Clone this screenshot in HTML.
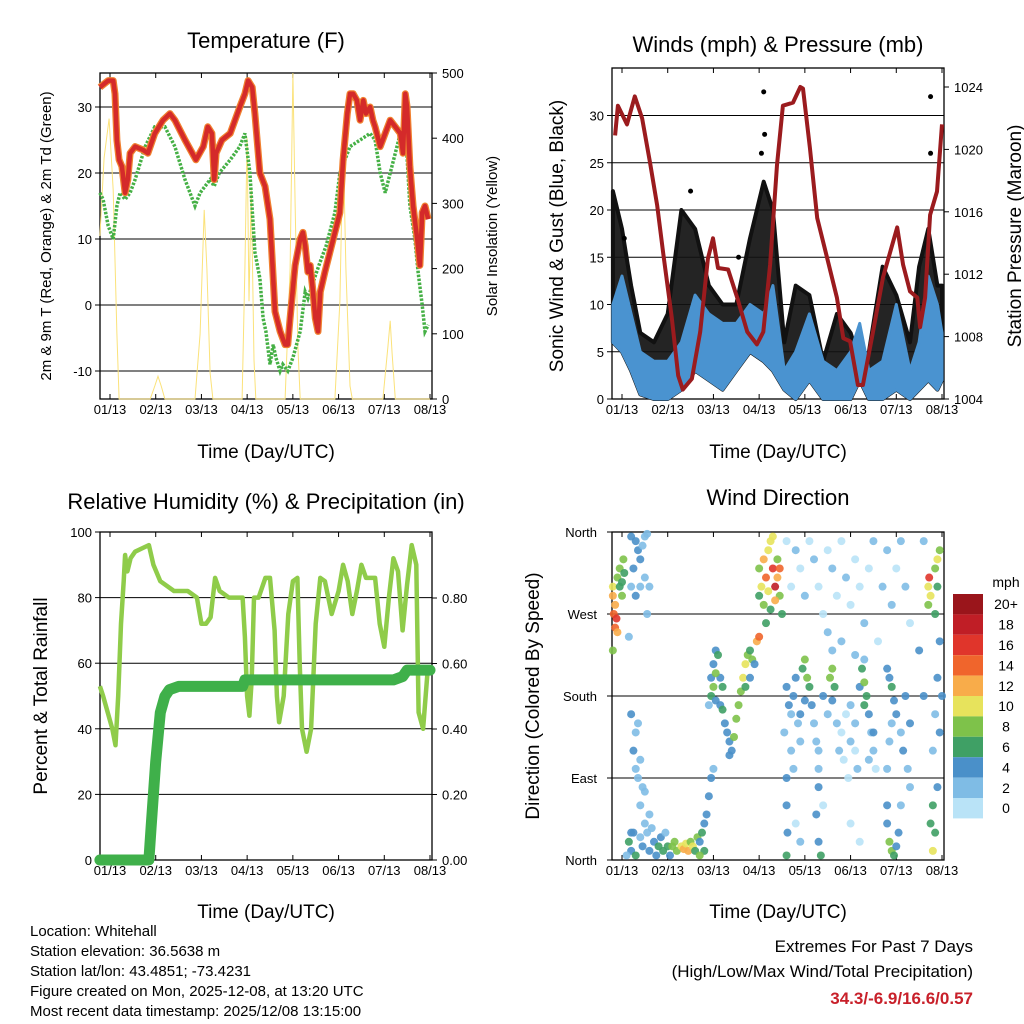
<!DOCTYPE html>
<html><head><meta charset="utf-8"><style>
body{margin:0;background:#fff;}
svg{display:block;font-family:"Liberation Sans",sans-serif;}
</style></head><body>
<svg id="chart" width="1024" height="1024" viewBox="0 0 1024 1024">
<rect x="0" y="0" width="1024" height="1024" fill="#fff"/>
<text x="266" y="48" font-size="22" text-anchor="middle">Temperature (F)</text>
<text x="778" y="52" font-size="22" text-anchor="middle">Winds (mph) &amp; Pressure (mb)</text>
<text x="266" y="509" font-size="22" text-anchor="middle">Relative Humidity (%) &amp; Precipitation (in)</text>
<text x="778" y="505" font-size="22" text-anchor="middle">Wind Direction</text>
<text x="266" y="458" font-size="19" text-anchor="middle">Time (Day/UTC)</text>
<text x="778" y="458" font-size="19" text-anchor="middle">Time (Day/UTC)</text>
<text x="266" y="918" font-size="19" text-anchor="middle">Time (Day/UTC)</text>
<text x="778" y="918" font-size="19" text-anchor="middle">Time (Day/UTC)</text>
<text transform="translate(51,236) rotate(-90)" font-size="15" text-anchor="middle">2m &amp; 9m T (Red, Orange) &amp; 2m Td (Green)</text>
<text transform="translate(497,236) rotate(-90)" font-size="15" text-anchor="middle">Solar Insolation (Yellow)</text>
<text transform="translate(563,236) rotate(-90)" font-size="19" text-anchor="middle">Sonic Wind &amp; Gust (Blue, Black)</text>
<text transform="translate(1021,236) rotate(-90)" font-size="19" text-anchor="middle">Station Pressure (Maroon)</text>
<text transform="translate(47,696) rotate(-90)" font-size="19" text-anchor="middle">Percent &amp; Total Rainfall</text>
<text transform="translate(539,696) rotate(-90)" font-size="19" text-anchor="middle">Direction (Colored By Speed)</text>
<g font-size="15">
<text x="30" y="936">Location: Whitehall</text>
<text x="30" y="956">Station elevation: 36.5638 m</text>
<text x="30" y="976">Station lat/lon: 43.4851; -73.4231</text>
<text x="30" y="996">Figure created on Mon, 2025-12-08, at 13:20 UTC</text>
<text x="30" y="1016">Most recent data timestamp: 2025/12/08 13:15:00</text>
</g>
<g font-size="17" text-anchor="end">
<text x="973" y="952">Extremes For Past 7 Days</text>
<text x="973" y="977">(High/Low/Max Wind/Total Precipitation)</text>
<text x="973" y="1004" font-weight="bold" fill="#c8202a">34.3/-6.9/16.6/0.57</text>
</g>
<g id="layer"></g>
</svg>
<script>
// ---- shared time axis ----
const dayLabels=["01/13","02/13","03/13","04/13","05/13","06/13","07/13","08/13"];
// ---- temperature panel ----
const tTimes=[-0.22,-0.04,0.07,0.11,0.15,0.2,0.26,0.33,0.39,0.44,0.55,0.72,0.83,0.98,1.16,1.31,1.42,1.64,1.88,2.04,2.14,2.23,2.28,2.32,2.45,2.63,2.84,2.95,3.02,3.11,3.17,3.28,3.39,3.5,3.54,3.61,3.72,3.83,3.89,3.94,4.05,4.16,4.22,4.27,4.33,4.38,4.44,4.49,4.55,4.6,4.7,4.81,4.92,5.03,5.1,5.19,5.25,5.32,5.4,5.47,5.54,5.6,5.69,5.75,5.8,5.91,6.02,6.13,6.24,6.35,6.41,6.46,6.5,6.56,6.63,6.72,6.78,6.83,6.89,6.96];
const temp2m=[33,34,34,32,25,22,21,17,19,23,24,23.5,23,26,28,29,28,25,22,24,27,26,19,23,25,26,30,32,34,33,29,20,18,13,8,-1,-4,-6,-6,-2,6,10,11,9,5,6,2,-2,-4,2,5,8,11,14,22,29,32,32,31,28,31,29,30,28,27,24,26,28,27,26,23,32,30,21,15,10,6,14,15,13];
const tdTimes=[-0.22,-0.15,-0.04,0.07,0.15,0.22,0.33,0.44,0.55,0.77,0.98,1.2,1.42,1.64,1.86,1.97,2.19,2.28,2.39,2.63,2.84,2.95,3.06,3.17,3.28,3.35,3.41,3.5,3.57,3.63,3.72,3.78,3.89,4.0,4.16,4.27,4.33,4.42,4.57,4.73,4.92,5.03,5.25,5.47,5.69,5.8,5.91,6.02,6.13,6.24,6.35,6.46,6.56,6.67,6.74,6.83,6.89,6.96];
const dewpt=[17,16,12,10,15,17,16,17,19,24,27,27,24,19,15,17,19,18,20,22,24,26,20,8,4,-2,-4,-9,-6,-8,-10,-9,-10,-8,-4,2,1,3,6,9,14,20,24,25,26,25,20,17,20,23,26,27,15,10,5,0,-4,-3];
const solTimes=[-0.22,-0.13,-0.02,0.07,0.15,0.2,0.88,0.98,1.05,1.12,1.2,1.86,1.97,2.06,2.12,2.19,2.25,2.89,2.95,3.0,3.04,3.09,3.15,3.19,3.83,3.94,4.0,4.05,4.11,4.16,4.92,5.03,5.1,5.16,5.25,5.3,5.97,6.08,6.13,6.17,6.24,7.0];
const solar=[250,370,430,320,100,0,0,20,35,20,0,0,100,290,200,40,0,0,200,400,150,320,60,0,0,200,500,300,80,0,0,150,400,200,20,0,0,80,120,70,0,0];
const tTicks=[-10,0,10,20,30];
const solTicks=[0,100,200,300,400,500];
// ---- winds panel ----
const pTimes=[-0.15,-0.09,0.11,0.28,0.44,0.61,0.77,0.9,1.09,1.23,1.33,1.53,1.71,1.88,1.99,2.1,2.32,2.52,2.74,2.95,3.09,3.24,3.39,3.52,3.74,3.9,3.96,4.11,4.27,4.49,4.7,4.84,4.99,5.16,5.27,5.49,5.71,6.02,6.15,6.3,6.46,6.52,6.63,6.74,6.89,7.0];
const pressure=[1020.9,1022.8,1021.6,1023.4,1022,1019.2,1016.4,1013.4,1009.2,1005.5,1004.6,1005.3,1008.3,1013,1014.3,1012.4,1012.3,1010.5,1008.3,1007.5,1008.3,1012.6,1019,1022.8,1023,1024,1023.9,1020.1,1015.6,1013,1010.5,1007.9,1007.7,1004.9,1004.9,1008.3,1011.8,1015,1012.6,1010.9,1010.5,1008.6,1010.5,1015.8,1017.3,1021.6];
const wTimes=[-0.2,0,0.2,0.4,0.7,1.0,1.3,1.6,1.9,2.2,2.5,2.8,3.1,3.3,3.55,3.8,4.1,4.4,4.7,5.0,5.2,5.4,5.7,6.0,6.3,6.5,6.7,6.9,7.0];
const windLo=[6,5,3,0.5,0,0,1,3,2,1,3,5,4,3,1,0,2,0,0,0,2,0,0,1,0,1,2,1,2];
const windHi=[10,13,9,5,4,4,6,11,9,8,8,10,9,12,3,5,9,4,3,5,8,3,4,10,3,6,13,10,7];
const gustHi=[22,18,12,7,6,9,20,18,12,10,10,17,23,20,6,12,11,4,9,7,4,5,14,11,6,14,18,12,12];
const gustOutT=[3.1,3.12,3.05,6.75,6.75,2.55,0.05,1.5];
const gustOutV=[32.5,28,26,32,26,15,17,22];
const wTicks=[0,5,10,15,20,25,30];
const pTicks=[1004,1008,1012,1016,1020,1024];
// ---- humidity panel ----
const rhTimes=[-0.22,-0.15,-0.05,0.05,0.12,0.18,0.24,0.3,0.33,0.38,0.45,0.55,0.7,0.85,0.95,1.1,1.4,1.7,1.9,2.0,2.1,2.2,2.3,2.4,2.6,2.9,2.95,3.0,3.05,3.1,3.15,3.25,3.4,3.5,3.6,3.65,3.7,3.8,3.9,4.0,4.1,4.15,4.2,4.3,4.4,4.5,4.6,4.7,4.85,5.0,5.1,5.2,5.3,5.4,5.5,5.6,5.8,5.9,6.0,6.1,6.2,6.3,6.4,6.5,6.6,6.7,6.75,6.85,6.95];
const rh=[53,50,45,40,35,50,72,85,93,88,92,94,95,96,90,85,82,82,80,72,72,74,86,82,80,80,68,50,44,55,80,80,86,86,70,50,42,50,75,85,86,60,40,33,40,72,86,85,75,82,90,85,75,82,90,86,86,72,65,80,92,88,70,84,96,90,45,40,58];
const prTimes=[-0.22,0.85,0.9,1.0,1.1,1.2,1.3,1.5,2.9,2.95,6.2,6.4,6.5,7.0];
const precip=[0,0,0.1,0.3,0.45,0.5,0.52,0.53,0.53,0.55,0.55,0.56,0.58,0.58];
const rhTicks=[0,20,40,60,80,100];
const prTicks=["0.00","0.20","0.40","0.60","0.80"];
// ---- wind direction panel ----
const dirDay=[-0.2,-0.2,-0.18,-0.15,-0.15,-0.12,-0.1,-0.1,-0.05,-0.05,0,0,0.03,0.05,-0.2,
0.2,0.3,0.35,0.4,0.45,0.5,0.55,0.25,0.4,0.5,0.3,0.6,0.55,0.2,0.15,
0.15,0.2,0.25,0.3,0.4,0.45,0.5,0.55,0.6,0.7,0.75,0.8,0.85,0.9,0.95,1.0,1.05,1.1,1.15,1.2,1.3,1.35,1.4,1.45,1.5,1.55,1.6,1.65,1.7,1.75,1.8,1.85,1.9,1.95,2.0,0.4,0.45,0.5,0.3,0.35,0.2,0.1,0.65,0.6,1.8,1.7,
1.95,2.0,2.05,2.1,2.15,2.2,2.0,1.95,2.05,2.15,2.25,2.3,2.35,2.35,2.4,2.2,1.9,2.05,
2.45,2.5,2.55,2.6,2.65,2.7,2.75,2.8,2.85,2.9,2.95,3.0,2.7,2.8,
3.0,3.05,3.1,3.15,3.2,3.25,3.3,3.35,3.4,3.45,3.5,3.1,3.2,3.3,3.25,3.4,3.15,3.35,3.0,3.45,
3.6,3.65,3.7,3.75,3.8,3.85,3.9,3.95,4.0,4.05,4.1,4.0,3.9,4.15,4.2,4.25,4.3,3.7,3.6,3.6,3.62,3.6,3.55,3.75,3.8,3.9,
3.6,3.7,3.8,3.9,4.0,4.1,4.2,4.3,4.4,4.5,4.6,4.7,4.8,4.9,5.0,5.1,5.2,5.3,5.4,5.5,5.7,5.8,5.9,6.0,6.1,6.2,6.3,4.5,4.6,4.8,5.1,5.3,5.6,
4.4,4.5,4.55,4.6,4.65,4.6,4.7,4.8,4.9,5.0,5.1,4.85,4.75,5.0,5.1,5.2,5.25,5.3,5.35,5.3,5.4,5.45,5.5,5.55,4.3,4.3,4.25,4.3,4.35,4.4,5.15,4.95,5.0,5.2,5.4,5.5,
5.8,5.85,5.9,5.95,6.0,5.9,5.85,5.8,6.1,6.15,6.2,6.3,5.8,5.85,5.9,5.95,6.0,6.05,5.8,6.1,6.25,6.3,
6.7,6.72,6.75,6.7,6.85,6.9,6.95,6.9,6.85,6.95,6.9,6.85,6.8,6.75,6.8,6.9,6.8,6.85,6.95,7.0,6.6,6.5,6.6,
0.2,0.3,0.25,0.4,0.35];
const dirDeg=[300,290,270,280,255,265,250,310,320,300,290,305,330,315,230,
355,350,340,330,345,355,358,320,300,310,290,300,270,300,245,
20,10,30,5,25,15,40,30,10,20,5,15,25,10,30,15,5,15,20,10,15,12,18,10,20,15,10,25,20,30,40,50,70,90,100,60,80,75,100,90,30,5,35,50,10,5,
200,215,230,225,200,190,190,180,175,170,150,140,130,115,120,165,170,205,
135,155,170,185,200,215,225,230,220,215,240,245,190,200,
320,300,330,310,340,350,320,300,310,290,270,280,295,355,275,330,260,285,290,320,
190,170,160,180,200,150,130,210,220,200,190,175,160,170,150,130,120,120,90,60,30,5,140,100,40,20,
350,300,340,320,290,350,330,300,270,340,320,290,350,310,280,330,300,260,320,350,300,340,280,320,350,300,260,250,230,240,225,220,240,
180,160,200,210,190,175,150,140,160,130,120,110,120,170,150,190,210,195,180,170,160,140,120,100,100,80,50,20,5,60,100,90,40,20,110,140,
210,200,190,175,160,150,130,100,140,120,180,150,40,20,10,5,15,30,60,60,100,80,
300,310,290,280,320,330,340,300,270,240,200,160,120,40,60,80,10,30,140,180,350,230,180,
160,140,120,110,150];
const dirSpd=[10,12,14,12,13,16,12,8,7,6,8,6,7,6,8,
4,3,3,4,2,2,1,3,2,2,4,2,2,2,2,
5,4,3,6,2,3,2,1,3,4,4,5,3,6,1,5,4,7,8,7,10,11,10,12,8,9,6,7,4,5,4,4,4,3,2,2,2,1,1,2,4,2,2,1,6,8,
4,4,3,5,4,5,7,6,4,3,4,4,4,3,4,5,1,7,
7,7,8,8,9,10,7,6,7,4,12,14,5,4,
8,10,12,14,9,10,16,18,12,8,6,7,10,10,6,8,6,12,6,14,
4,3,2,4,3,2,1,6,7,8,6,4,3,4,2,1,1,1,4,3,3,6,2,1,0,1,
0,0,1,0,1,0,1,0,0,0,1,0,0,1,0,0,0,1,0,1,2,1,2,0,2,1,0,2,2,1,2,1,0,
3,2,8,7,6,4,1,0,0,1,0,0,2,2,2,4,6,8,6,5,3,2,1,0,2,3,4,4,6,0,1,0,0,0,2,4,
4,4,6,4,3,2,2,1,2,3,4,3,4,7,8,6,4,3,3,1,2,1,
10,16,10,8,8,10,8,6,6,4,3,2,1,6,5,4,10,6,4,3,2,3,4,
3,2,3,1,2];
const dirTicks=["North","East","South","West","North"];
const spdBins=["0","2","4","6","8","10","12","14","16","18","20+"];
const spdColors=["#b9e3f7","#7fbce5","#4a90c9","#3fa065","#7ec24a","#e7e35c","#f8ac4a","#f0652c","#e0352b","#c01e26","#9a151b"];

// ---- helpers ----
const NS="http://www.w3.org/2000/svg";
const layer=document.getElementById('layer');
function mk(tag,attrs,parent){const e=document.createElementNS(NS,tag);for(const k in attrs)e.setAttribute(k,attrs[k]);(parent||layer).appendChild(e);return e;}
function txt(x,y,s,size,anchor,parent){const e=mk('text',{x:x,y:y,'font-size':size,'text-anchor':anchor},parent);e.textContent=s;return e;}
function linear(d0,d1,r0,r1){return v=>r0+(v-d0)*(r1-r0)/(d1-d0);}
function pathOf(ts,vs,xs,ys){return ts.map((t,i)=>(i?'L':'M')+xs(t).toFixed(1)+','+ys(vs[i]).toFixed(1)).join('');}

function frame(name,x0,y0,x1,y1,xs){
  const g=mk('g',{});
  
  
  const r=mk('rect',{x:x0,y:y0,width:x1-x0,height:y1-y0,fill:'none',stroke:'#000','stroke-width':1.3},g);
  
  
  dayLabels.forEach((lab,i)=>{
    const x=xs(i);
    mk('line',{x1:x,y1:y1,x2:x,y2:y1-5,stroke:'#000'},g);
    mk('line',{x1:x,y1:y0,x2:x,y2:y0+5,stroke:'#000'},g);
    const t=txt(x,y1+15,lab,13,'middle',g);
    
    
  });
  return g;
}
function hgrid(g,x0,x1,y,w){mk('line',{x1:x0,y1:y,x2:x1,y2:y,stroke:'#000','stroke-width':w||1},g);}

// ===== Panel 1: Temperature =====
(function(){
  const X0=100,X1=432,Y0=73,Y1=399;
  const xs=linear(0,7,110,430);
  const ys=linear(0,30,305,107);
  const ysol=linear(0,500,399,73);
  const g=frame('temperature',X0,Y0,X1,Y1,xs);
  tTicks.forEach(v=>{hgrid(g,X0,X1,ys(v));mk('line',{x1:X0-5,y1:ys(v),x2:X0,y2:ys(v),stroke:'#000'},g);
    const t=txt(X0-8,ys(v)+5,String(v),13,'end',g);
    
    });
  solTicks.forEach(v=>{mk('line',{x1:X1,y1:ysol(v),x2:X1+5,y2:ysol(v),stroke:'#000'},g);
    const t=txt(X1+10,ysol(v)+5,String(v),13,'start',g);
    
    });
  const sol=mk('path',{d:pathOf(solTimes,solar,xs,ysol),fill:'none',stroke:'#fbe27a','stroke-width':1});
  
  
  const dp=mk('path',{d:pathOf(tdTimes,dewpt,xs,ys),fill:'none',stroke:'#45b045','stroke-width':3.5,'stroke-dasharray':'2.5 1.5'});
  
  
  const t9=mk('path',{d:pathOf(tTimes,temp2m,xs,ys),fill:'none',stroke:'#f08030','stroke-width':7,'stroke-linejoin':'round'});
  
  
  const t2=mk('path',{d:pathOf(tTimes,temp2m,xs,ys),fill:'none',stroke:'#d42a2a','stroke-width':4.5,'stroke-linejoin':'round'});
  
  
})();

// ===== Panel 2: Winds =====
(function(){
  const X0=612,X1=944,Y0=68,Y1=399;
  const xs=linear(0,7,622,942);
  const ys=linear(0,30,399,115.5);
  const yp=linear(1004,1024,399,87);
  const g=frame('winds',X0,Y0,X1,Y1,xs);
  wTicks.forEach(v=>{hgrid(g,X0,X1,ys(v));mk('line',{x1:X0-5,y1:ys(v),x2:X0,y2:ys(v),stroke:'#000'},g);
    const t=txt(X0-8,ys(v)+5,String(v),13,'end',g);
    
    });
  pTicks.forEach(v=>{mk('line',{x1:X1,y1:yp(v),x2:X1+5,y2:yp(v),stroke:'#000'},g);
    const t=txt(X1+10,yp(v)+5,String(v),13,'start',g);
    
    });
  const gd='M'+wTimes.map((t,i)=>xs(t).toFixed(1)+','+ys(gustHi[i]).toFixed(1)).join('L')+'L'+wTimes.slice().reverse().map((t,j)=>{const i=wTimes.length-1-j;return xs(t).toFixed(1)+','+ys(windLo[i]).toFixed(1);}).join('L')+'Z';
  const gust=mk('path',{d:gd,fill:'#111','fill-opacity':0.92,stroke:'#111','stroke-width':4,'stroke-linejoin':'round'});
  
  
  gustOutT.forEach((t,i)=>{const c=mk('circle',{cx:xs(t),cy:ys(gustOutV[i]),r:2.5,fill:'#000'});
    
    });
  const wd='M'+wTimes.map((t,i)=>xs(t).toFixed(1)+','+ys(windHi[i]).toFixed(1)).join('L')+'L'+wTimes.slice().reverse().map((t,j)=>{const i=wTimes.length-1-j;return xs(t).toFixed(1)+','+ys(windLo[i]).toFixed(1);}).join('L')+'Z';
  const wind=mk('path',{d:wd,fill:'#4a93d0',stroke:'#4a93d0','stroke-width':3,'stroke-linejoin':'round'});
  
  
  const pr=mk('path',{d:pathOf(pTimes,pressure,xs,yp),fill:'none',stroke:'#9b1b1e','stroke-width':4,'stroke-linejoin':'round'});
  
  
})();

// ===== Panel 3: Humidity =====
(function(){
  const X0=100,X1=432,Y0=532,Y1=860;
  const xs=linear(0,7,110,430);
  const ys=linear(0,100,860,532);
  const yp=linear(0,0.8,860,598);
  const g=frame('humidity',X0,Y0,X1,Y1,xs);
  rhTicks.forEach(v=>{hgrid(g,X0,X1,ys(v));mk('line',{x1:X0-5,y1:ys(v),x2:X0,y2:ys(v),stroke:'#000'},g);
    const t=txt(X0-8,ys(v)+5,String(v),13,'end',g);
    
    });
  prTicks.forEach(s=>{const v=parseFloat(s);mk('line',{x1:X1,y1:yp(v),x2:X1+5,y2:yp(v),stroke:'#000'},g);
    const t=txt(X1+10,yp(v)+5,s,13,'start',g);
    
    });
  const r=mk('path',{d:pathOf(rhTimes,rh,xs,ys),fill:'none',stroke:'#8fcc4a','stroke-width':4.5,'stroke-linejoin':'round'});
  
  
  const p=mk('path',{d:pathOf(prTimes,precip,xs,yp),fill:'none',stroke:'#3fb04a','stroke-width':11,'stroke-linejoin':'round','stroke-linecap':'round'});
  
  
})();

// ===== Panel 4: Wind direction =====
(function(){
  const X0=612,X1=944,Y0=532,Y1=860;
  const xs=linear(0,7,622,942);
  const ys=linear(0,360,860,532);
  const g=frame('direction',X0,Y0,X1,Y1,xs);
  dirTicks.forEach((s,i)=>{const y=ys(i*90);hgrid(g,X0,X1,y);mk('line',{x1:X0-5,y1:y,x2:X0,y2:y,stroke:'#000'},g);
    const t=txt(X0-15,y+5,s,13,'end',g);
    
    });
  function col(s){let i=Math.min(10,Math.max(0,Math.round(s/2)));return spdColors[i];}
  dirDay.forEach((d,i)=>{const c=mk('circle',{cx:xs(d),cy:ys(dirDeg[i]),r:4,fill:col(dirSpd[i]),'fill-opacity':0.9});
    
    });
  // legend
  const lg=mk('g',{});
  
  
  txt(1006,587,'mph',14,'middle',lg);
  const n=spdBins.length,top=594,h=20.4;
  spdBins.forEach((lab,j)=>{const k=n-1-j;const y=top+j*h;
    const b=mk('rect',{x:953,y:y,width:30,height:h,fill:spdColors[k]},lg);
    
    
    const t=txt(1006,y+h/2+5,spdBins[k],14,'middle',lg);
    
    });
})();
</script>
</body></html>
